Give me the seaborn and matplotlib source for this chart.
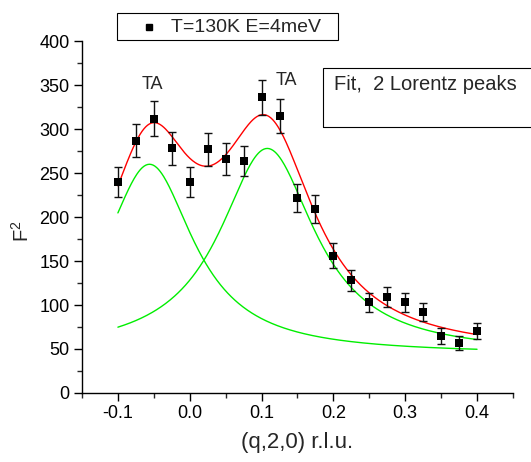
import numpy as np
import pandas as pd
import seaborn as sns
import matplotlib.pyplot as plt
from matplotlib.lines import Line2D
from matplotlib.patches import Rectangle
from matplotlib.ticker import MultipleLocator

# measured points
q = [-0.1, -0.075, -0.05, -0.025, 0.0, 0.025, 0.05, 0.075, 0.1, 0.125, 0.15,
     0.175, 0.2, 0.225, 0.25, 0.275, 0.3, 0.325, 0.35, 0.375, 0.4]
f2 = [240, 287, 312, 278, 240, 277, 266, 264, 336, 315, 222,
      209, 156, 128, 103, 109, 103, 92, 65, 57, 70]
f2_err = [17, 19, 20, 19, 17, 19, 18, 17, 20, 19, 16,
          16, 14, 12, 11, 11, 11, 10, 9, 8, 9]

# fit parameters (2 Lorentz peaks + constant)
baseline = 44
centers = [-0.056, 0.108]
heights = [216, 234]
half_widths = [0.075, 0.081]
fit_range = (-0.1, 0.4)

sns.set_style("ticks")
plt.rcParams['font.family'] = ['Liberation Sans', 'DejaVu Sans']
plt.rcParams['mathtext.fontset'] = 'custom'
plt.rcParams['mathtext.rm'] = 'Liberation Sans'
plt.rcParams['mathtext.it'] = 'Liberation Sans'

fig = plt.figure(figsize=(5.31, 4.62), dpi=100)
ax = fig.add_axes([0.1544, 0.1494, 0.8116, 0.7616])

xs = np.linspace(fit_range[0], fit_range[1], 400)
peaks = [h / (1 + ((xs - c) / w) ** 2) for c, h, w in zip(centers, heights, half_widths)]
curves = pd.DataFrame({
    'q': np.concatenate([xs, xs, xs]),
    'F2': np.concatenate([baseline + peaks[0], baseline + peaks[1], baseline + peaks[0] + peaks[1]]),
    'curve': ['p1'] * len(xs) + ['p2'] * len(xs) + ['sum'] * len(xs),
})
sns.lineplot(data=curves, x='q', y='F2', hue='curve',
             palette={'p1': '#00ee00', 'p2': '#00ee00', 'sum': '#ff0000'},
             linewidth=1.0, legend=False, ax=ax, sort=False, estimator=None)

ax.errorbar(q, f2, yerr=f2_err, fmt='none', ecolor='#111111', elinewidth=1.0,
            capsize=3, capthick=1.0, zorder=3)
df = pd.DataFrame({'q': q, 'F2': f2})
sns.scatterplot(data=df, x='q', y='F2', marker='s', s=34, color='black',
                edgecolor='black', linewidth=0, ax=ax, zorder=4)

ax.set_xlim(-0.15, 0.45)
ax.set_ylim(0, 400)
ax.xaxis.set_major_locator(MultipleLocator(0.1))
ax.xaxis.set_minor_locator(MultipleLocator(0.05))
ax.yaxis.set_major_locator(MultipleLocator(50))
ax.yaxis.set_minor_locator(MultipleLocator(25))
ax.set_xticks([-0.1, 0.0, 0.1, 0.2, 0.3, 0.4])
ax.set_xticklabels(['-0.1', '0.0', '0.1', '0.2', '0.3', '0.4'])
ax.tick_params(which='major', direction='out', length=6, width=1, labelsize=13,
               colors='black', pad=3)
ax.tick_params(which='minor', direction='out', length=3.5, width=1)
for s in ['left', 'bottom']:
    ax.spines[s].set_linewidth(1.0)
    ax.spines[s].set_color('black')
sns.despine(ax=ax)

ax.set_xlabel('(q,2,0) r.l.u.', fontsize=16, labelpad=7)
ax.set_ylabel('F$^2$', fontsize=14.5)
ax.yaxis.set_label_coords(-0.114, 0.46)

ax.text(-0.052, 351, 'TA', ha='center', va='center', fontsize=13)
ax.text(0.135, 355, 'TA', ha='center', va='center', fontsize=13)

# legend box drawn above the plot area
W, H = 531, 462
fig.patches.append(Rectangle((117 / W, 1 - 40 / H), 221 / W, 27 / H,
                             transform=fig.transFigure, fill=False,
                             edgecolor='black', linewidth=0.8))
fig.add_artist(Line2D([149 / W], [1 - 27 / H], marker='s', color='black',
                      linestyle='none', markersize=4.5, transform=fig.transFigure))
fig.text(171 / W, 1 - 27 / H, 'T=130K E=4meV', fontsize=14, va='center')

# fit annotation box
fig.patches.append(Rectangle((323 / W, 1 - 127 / H), 0.5, 59 / H,
                             transform=fig.transFigure, fill=False,
                             edgecolor='black', linewidth=0.8))
fig.text(334 / W, 1 - 85 / H, 'Fit,  2 Lorentz peaks', fontsize=14.5, va='center')

fig.savefig('out.png', dpi=100)
